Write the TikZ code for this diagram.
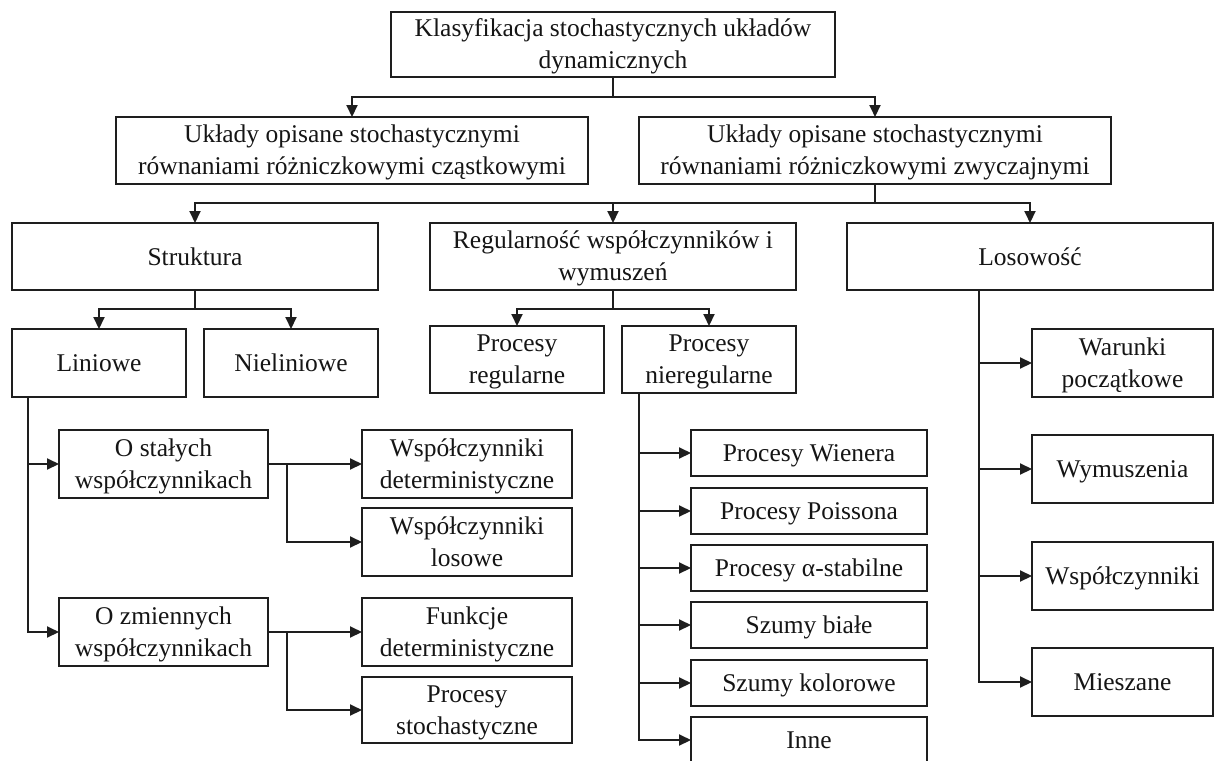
\documentclass[tikz,border=0pt]{standalone}
\usepackage{fontspec}
\setmainfont{Liberation Serif}
\usetikzlibrary{arrows.meta}
\definecolor{linecol}{HTML}{1E1E1E}
\definecolor{textcol}{HTML}{151515}
\tikzset{
  box/.style={draw=linecol, line width=1.8pt, rectangle, inner sep=0pt, outer sep=0pt,
    align=center, text=textcol, font=\fontsize{25.5}{32}\selectfont},
  link/.style={draw=linecol, line width=2pt},
  arr/.style={link, -{Triangle[length=12pt,width=11pt]}},
}
% fixed line height so that every label sits at the same place in its box
\newcommand\lblstrut{\rule[-5pt]{0pt}{27pt}}
% box from its left, right, top and bottom edges
\newcommand\boxnode[6]{%
  \node[box, minimum width={(#3-#2)*1pt}, minimum height={(#5-#4)*1pt}]
    (#1) at ({(#2+#3)/2},{(#4+#5)/2}) {\lblstrut #6\lblstrut};}
\begin{document}
\begin{tikzpicture}[x=1pt, y=-1pt]
\fill[white] (0,0) rectangle (1214,760);
\useasboundingbox (0,0) rectangle (1214,760);

% level 1 and 2
\boxnode{top}{391}{835}{12}{77}{Klasyfikacja stochastycznych układów\\dynamicznych}
\boxnode{pde}{116}{588}{117}{184}{Układy opisane stochastycznymi\\równaniami różniczkowymi cząstkowymi}
\boxnode{ode}{639}{1111}{117}{184}{Układy opisane stochastycznymi\\równaniami różniczkowymi zwyczajnymi}

% level 3
\boxnode{struk}{12}{378}{223}{290}{Struktura}
\boxnode{regul}{430}{796}{223}{290}{Regularność współczynników i\\wymuszeń}
\boxnode{losow}{847}{1213}{223}{290}{Losowość}

% structure branch
\boxnode{lin}{12}{186}{329}{397}{Liniowe}
\boxnode{nielin}{204}{378}{329}{397}{Nieliniowe}
\boxnode{ostal}{59}{268}{430}{498}{O stałych\\współczynnikach}
\boxnode{ozm}{59}{268}{598}{666}{O zmiennych\\współczynnikach}
\boxnode{wdet}{362}{572}{430}{498}{Współczynniki\\deterministyczne}
\boxnode{wlos}{362}{572}{508}{576}{Współczynniki\\losowe}
\boxnode{fdet}{362}{572}{598}{666}{Funkcje\\deterministyczne}
\boxnode{pstoch}{362}{572}{677}{743}{Procesy\\stochastyczne}

% regularity branch
\boxnode{preg}{430}{604}{326}{393}{Procesy\\regularne}
\boxnode{pnieg}{622}{796}{326}{393}{Procesy\\nieregularne}
\boxnode{wien}{691}{927}{430}{476}{Procesy Wienera}
\boxnode{pois}{691}{927}{488}{534}{Procesy Poissona}
\boxnode{alfa}{691}{927}{545}{591}{Procesy α-stabilne}
\boxnode{biale}{691}{927}{602}{648}{Szumy białe}
\boxnode{kolor}{691}{927}{660}{706}{Szumy kolorowe}
\boxnode{inne}{691}{927}{717}{763}{Inne}

% randomness branch
\boxnode{warunki}{1032}{1213}{329}{397}{Warunki\\początkowe}
\boxnode{wymusz}{1032}{1213}{435}{503}{Wymuszenia}
\boxnode{wspol}{1032}{1213}{542}{610}{Współczynniki}
\boxnode{miesz}{1032}{1213}{648}{716}{Mieszane}

% connectors
\coordinate (j0) at (613,97);
\draw[link] (top.south) -- (j0);
\draw[arr] (j0) -| (pde.north);
\draw[arr] (j0) -| (ode.north);

\coordinate (j1) at (875,203);
\draw[link] (ode.south) -- (j1);
\draw[arr] (j1) -| (struk.north);
\draw[arr] (j1) -| (regul.north);
\draw[arr] (j1) -| (losow.north);

\coordinate (j2) at (195,309);
\draw[link] (struk.south) -- (j2);
\draw[arr] (j2) -| (lin.north);
\draw[arr] (j2) -| (nielin.north);

\coordinate (j3) at (613,309);
\draw[link] (regul.south) -- (j3);
\draw[arr] (j3) -| (preg.north);
\draw[arr] (j3) -| (pnieg.north);

\coordinate (linout) at (28,397);
\draw[arr] (linout) |- (ostal.west);
\draw[arr] (linout) |- (ozm.west);

\coordinate (b1) at (287,464);
\draw[arr] (ostal.east) -- (wdet.west);
\draw[arr] (b1) |- (wlos.west);
\coordinate (b2) at (287,632);
\draw[arr] (ozm.east) -- (fdet.west);
\draw[arr] (b2) |- (pstoch.west);

\coordinate (pnout) at (639,393);
\foreach \t in {wien,pois,alfa,biale,kolor,inne}
  \draw[arr] (pnout) |- (\t.west);

\coordinate (losout) at (979,290);
\foreach \t in {warunki,wymusz,wspol,miesz}
  \draw[arr] (losout) |- (\t.west);
\end{tikzpicture}
\end{document}
